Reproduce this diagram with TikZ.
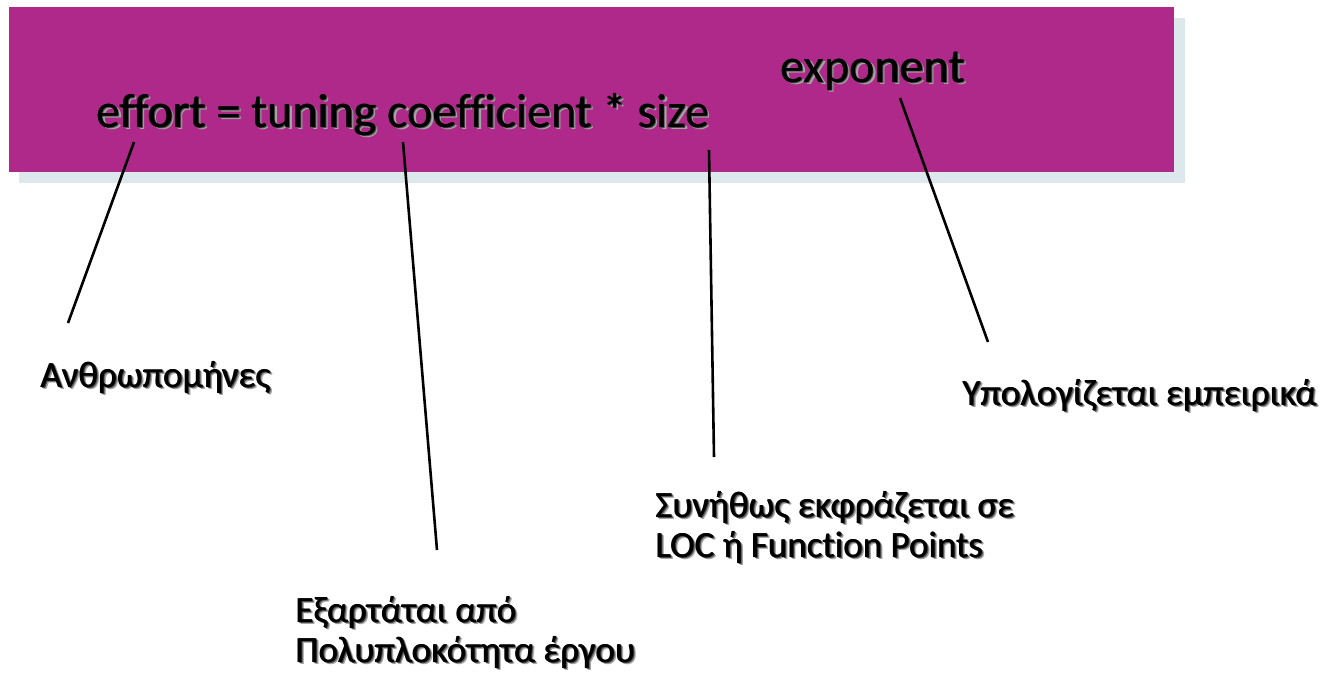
\documentclass[tikz,border=0pt]{standalone}
\usepackage{fontspec}
\setmainfont{Carlito}[Ligatures={NoCommon}]
\definecolor{banner}{RGB}{175,41,138}
\definecolor{bannershade}{RGB}{221,232,236}
% text with a soft dark drop shadow
\newcommand\shd[1]{\leavevmode\rlap{\kern2.8pt\raisebox{-2.8pt}{\textcolor{black!35}{#1}}}\rlap{\kern1.6pt\raisebox{-1.6pt}{\textcolor{black!70}{#1}}}\rlap{\kern0.6pt\raisebox{-0.6pt}{#1}}#1}
\begin{document}
\begin{tikzpicture}[x=1pt,y=-1pt,
  formula/.style={font=\fontsize{48}{56}\selectfont, inner sep=0pt, anchor=base west},
  note/.style={font=\fontsize{37}{40}\selectfont, inner sep=0pt, anchor=base west, align=left},
  pointer/.style={line width=2.6pt, black}]
\useasboundingbox (0,0) rectangle (1325,681);
% banner with its offset shade
\fill[bannershade] (19,18) rectangle (1185,183);
\fill[banner] (9,7) rectangle (1174,172);
% formula
\node[formula] (eq) at (96,127) {\shd{effort = tuning coefficient * size}};
\node[formula] (exp) at (780,82) {\shd{exponent}};
% explanations (base anchor sits on the last line)
\node[note] (n1) at (40,387) {\shd{Ανθρωπομήνες}};
\node[note] (n2) at (295,662) {\shd{Εξαρτάται από}\\\shd{Πολυπλοκότητα έργου}};
\node[note] (n3) at (655,557) {\shd{Συνήθως εκφράζεται σε}\\\shd{LOC ή Function Points}};
\node[note] (n4) at (962,405) {\shd{Υπολογίζεται εμπειρικά}};
% pointer end points
\coordinate (a1) at (134,142); \coordinate (b1) at (68,323);
\coordinate (a2) at (403,142); \coordinate (b2) at (437,550);
\coordinate (a3) at (709,150); \coordinate (b3) at (714,457);
\coordinate (a4) at (900,98);  \coordinate (b4) at (988,342);
\draw[pointer] (a1) -- (b1);
\draw[pointer] (a2) -- (b2);
\draw[pointer] (a3) -- (b3);
\draw[pointer] (a4) -- (b4);
\end{tikzpicture}
\end{document}
